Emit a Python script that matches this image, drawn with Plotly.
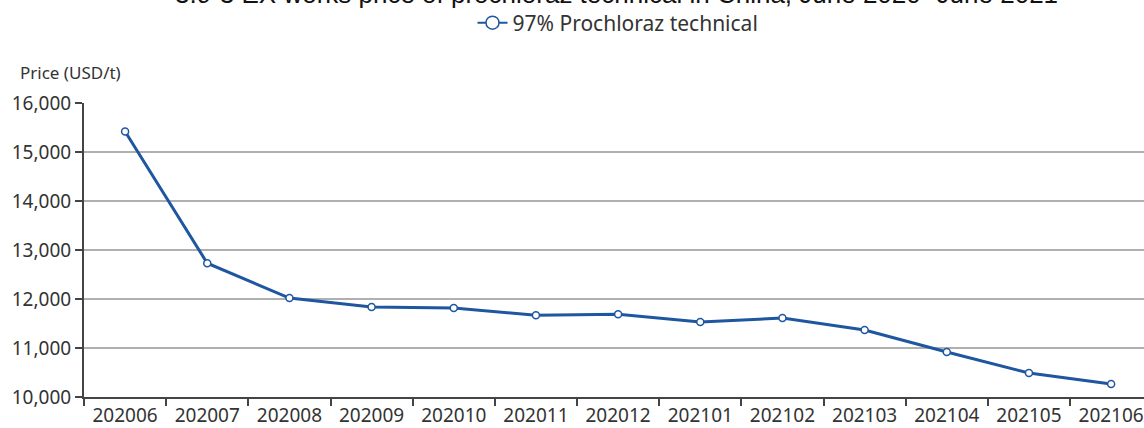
import plotly.graph_objects as go

months = ["202006", "202007", "202008", "202009", "202010", "202011", "202012",
          "202101", "202102", "202103", "202104", "202105", "202106"]
prices = [15420, 12730, 12020, 11836, 11815, 11670, 11690,
          11530, 11610, 11367, 10918, 10490, 10265]
series_name = "97% Prochloraz technical"
title_text = "3.9-3 EX works price of prochloraz technical in China, June 2020 -June 2021"
y_title = "Price (USD/t)"
y_ticks = [10000, 11000, 12000, 13000, 14000, 15000, 16000]

W, H = 1144, 428
L, R, T, B = 84, 0, 103, 31
font = "Noto Sans, Open Sans, sans-serif"
blue = "#1f56a0"

fig = go.Figure()
fig.add_trace(go.Scatter(
    x=months, y=prices, name=series_name, showlegend=False,
    mode="lines+markers",
    line=dict(color=blue, width=3),
    marker=dict(size=7, color="white", line=dict(color=blue, width=1.5)),
))
# legend entry with the larger legend symbol
fig.add_trace(go.Scatter(
    x=[None], y=[None], name=series_name, showlegend=True,
    mode="lines+markers",
    line=dict(color=blue, width=2),
    marker=dict(size=13, color="white", line=dict(color=blue, width=1.5)),
))

fig.update_layout(
    width=W, height=H,
    margin=dict(l=L, r=R, t=T, b=B),
    paper_bgcolor="white", plot_bgcolor="white",
    showlegend=True,
    legend=dict(orientation="h", x=618 / W, xanchor="center", xref="container",
                y=1 - 23 / H, yref="container", yanchor="middle",
                font=dict(family=font, size=21, color="#333333"),
                itemwidth=30),
    font=dict(family=font, color="#333333"),
)

fig.update_xaxes(
    type="category",
    range=[-0.5, 12.4],
    showgrid=False, showline=True, linecolor="#444444", linewidth=2,
    ticks="outside", ticklen=7, tickcolor="#444444", tickwidth=2,
    tickson="boundaries",
    tickfont=dict(family=font, size=19, color="#333333"),
    zeroline=False,
)
fig.update_yaxes(
    range=[10000, 16000],
    tickmode="array", tickvals=y_ticks,
    tickformat=",d",
    showgrid=True, gridcolor="#b0b0b0", gridwidth=2,
    showline=True, linecolor="#444444", linewidth=2,
    ticks="outside", ticklen=7, tickcolor="#444444", tickwidth=2,
    tickfont=dict(family=font, size=19, color="#333333"),
    zeroline=False,
)

ph = H - T - B
pw = W - L - R
fig.add_annotation(text=y_title, xref="paper", yref="paper",
                   x=(18 - L) / pw, y=1 + (T - 72) / ph, xanchor="left", yanchor="middle",
                   showarrow=False, font=dict(family=font, size=17, color="#333333"))
fig.add_annotation(text=title_text, xref="paper", yref="paper",
                   x=(616 - L) / pw, y=1 + (T + 6) / ph,
                   xanchor="center", yanchor="middle",
                   showarrow=False, font=dict(family="Arial, Liberation Sans", size=26, color="#111111"))

fig.write_html("out.html", config={"displayModeBar": False},
               post_script="document.body.style.margin='0';")
